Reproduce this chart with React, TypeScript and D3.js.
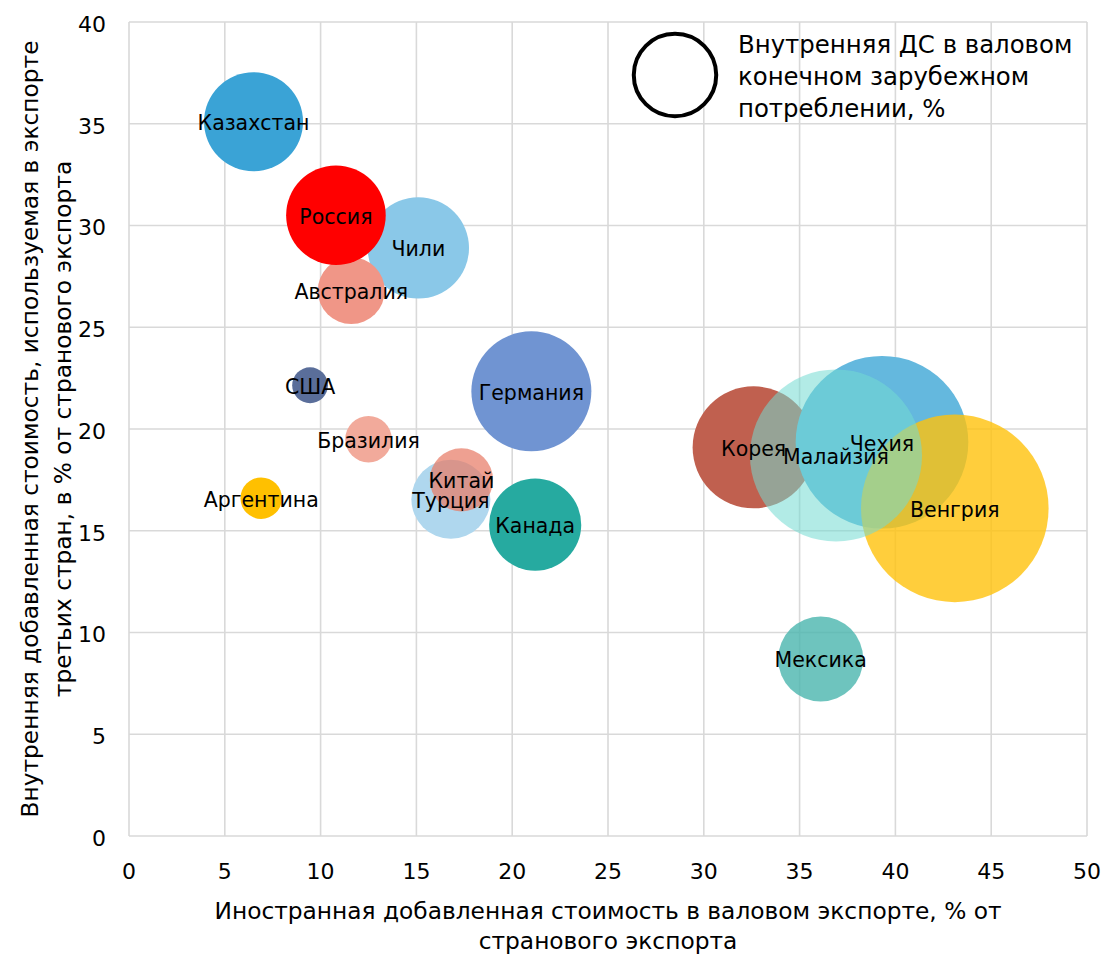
import React from "react";
import * as d3 from "d3";

const countries = ["Германия","Канада","Турция","Китай","Чили","Австралия","Россия","Казахстан","США","Бразилия","Аргентина","Корея","Чехия","Венгрия","Малайзия","Мексика"];
const foreignVA = [21.0, 21.2, 16.8, 17.35, 15.1, 11.6, 10.8, 6.5, 9.45, 12.5, 6.9, 32.6, 39.3, 43.1, 36.9, 36.1];
const domesticVA = [21.85, 15.3, 16.55, 17.5, 28.9, 26.8, 30.5, 35.1, 22.15, 19.5, 16.6, 19.1, 19.35, 16.1, 18.7, 8.7];
const finalCons = [36, 21.2, 15.6, 10, 25.7, 11.2, 24.8, 24.5, 3.2, 5.4, 4.3, 37.2, 74.5, 88, 74, 18.1];
const colors = ["#7094D2","#26AAA0","#AFD7EE","#E77B66","#8AC8E8","#F09687","#FF0000","#3AA3D6","#5A6E9A","#F2AA9B","#FFC000","#C0604F","#64B8DE","#FFC20B","#73DBD2","#4AB5AE"];
const opacities = [1, 1, 1, 0.72, 1, 1, 1, 1, 1, 1, 1, 1, 1, 0.8, 0.55, 0.8];
const xTicks = [0, 5, 10, 15, 20, 25, 30, 35, 40, 45, 50];
const yTicks = [0, 5, 10, 15, 20, 25, 30, 35, 40];
const legendSize = [17];
const legendLines = ["Внутренняя ДС в валовом", "конечном зарубежном", "потреблении, %"];
const xTitle = ["Иностранная добавленная стоимость в валовом экспорте, % от", "странового экспорта"];
const yTitle = ["Внутренняя добавленная стоимость, используемая в экспорте", "третьих стран, в % от странового экспорта"];

const FONT = "'DejaVu Sans', Verdana, sans-serif";

export default function App() {
  const W = 1102, H = 954;
  const x = d3.scaleLinear().domain([0, 50]).range([129, 1087]);
  const y = d3.scaleLinear().domain([0, 40]).range([836, 22]);
  const r = d3.scaleSqrt().domain([0, 100]).range([0, 100]);
  const grid = "#D9D9D9";
  const cy = (y(0) + y(40)) / 2;
  const cx = (x(0) + x(50)) / 2;

  return (
    <svg width={W} height={H} style={{ position: "absolute", left: 0, top: 0, background: "#fff" }} fontFamily={FONT}>
      <rect x={0} y={0} width={W} height={H} fill="#fff" />
      {yTicks.map((t) => (
        <line key={"gy" + t} x1={x(0)} x2={x(50)} y1={y(t)} y2={y(t)} stroke={grid} strokeWidth={1.6} />
      ))}
      {xTicks.map((t) => (
        <line key={"gx" + t} x1={x(t)} x2={x(t)} y1={y(0)} y2={y(40)} stroke={grid} strokeWidth={1.6} />
      ))}
      {countries.map((c, i) => (
        <circle key={"b" + c} cx={x(foreignVA[i])} cy={y(domesticVA[i])} r={r(finalCons[i])} fill={colors[i]} fillOpacity={opacities[i]} />
      ))}
      {countries.map((c, i) => (
        <text key={"l" + c} x={x(foreignVA[i])} y={y(domesticVA[i]) + 1} dy="0.36em" textAnchor="middle" fontSize={20.5} fill="#000">{c}</text>
      ))}
      {yTicks.map((t) => (
        <text key={"ty" + t} x={x(0) - 23} y={y(t) + 2} dy="0.36em" textAnchor="end" fontSize={22} fill="#000">{t}</text>
      ))}
      {xTicks.map((t) => (
        <text key={"tx" + t} x={x(t)} y={y(0) + 35} dy="0.36em" textAnchor="middle" fontSize={22} fill="#000">{t}</text>
      ))}
      {xTitle.map((s, i) => (
        <text key={"xt" + i} x={cx} y={911 + i * 30} dy="0.36em" textAnchor="middle" fontSize={23.3} fill="#000">{s}</text>
      ))}
      {yTitle.map((s, i) => (
        <text key={"yt" + i} transform={`translate(${30 + i * 33},${cy}) rotate(-90)`} dy="0.36em" textAnchor="middle" fontSize={23.3} fill="#000">{s}</text>
      ))}
      <circle cx={675} cy={75} r={r(legendSize[0])} fill="#fff" stroke="#000" strokeWidth={4} />
      {legendLines.map((s, i) => (
        <text key={"lg" + i} x={738} y={53 + i * 32} fontSize={24.4} fill="#000">{s}</text>
      ))}
    </svg>
  );
}
